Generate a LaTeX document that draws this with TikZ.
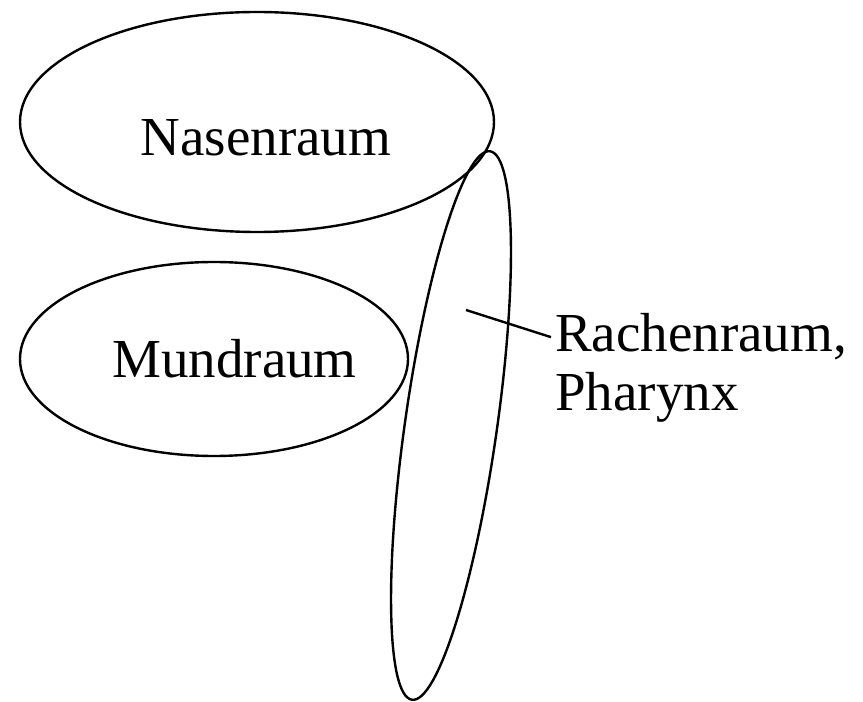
\documentclass[tikz,border=0pt]{standalone}
\usepackage{fontspec}
\setmainfont{Liberation Serif}
\usetikzlibrary{shapes.geometric}

\begin{document}
\begin{tikzpicture}[x=1pt, y=1pt,
    region/.style={draw, ellipse, line width=2.4pt, inner sep=0pt},
    lbl/.style={font=\fontsize{55}{59}\selectfont, inner sep=0pt}]
    \useasboundingbox (0,0) rectangle (863,702);
    \node[region, minimum width=474, minimum height=220] (nasen) at (257,580) {};
    \node[region, minimum width=388, minimum height=194] (mund) at (214,343) {};
    \node[region, minimum width=554, minimum height=92, rotate=81.9] (rachenraum) at (451,276.5) {};
    \node[lbl] (nasentext) at (266,564.5) {Nasenraum};
    \node[lbl] (mundtext) at (234.5,343) {Mundraum};
    \node[lbl, anchor=base west, inner xsep=4pt] (rachen) at (551,350) {Rachenraum,};
    \node[lbl, anchor=base west, inner xsep=4pt] (pharynx) at (551,291) {Pharynx};
    \coordinate (zeiger) at (466,392);
    \draw[line width=2.4pt] (zeiger) -- (rachen.west);
\end{tikzpicture}
\end{document}
